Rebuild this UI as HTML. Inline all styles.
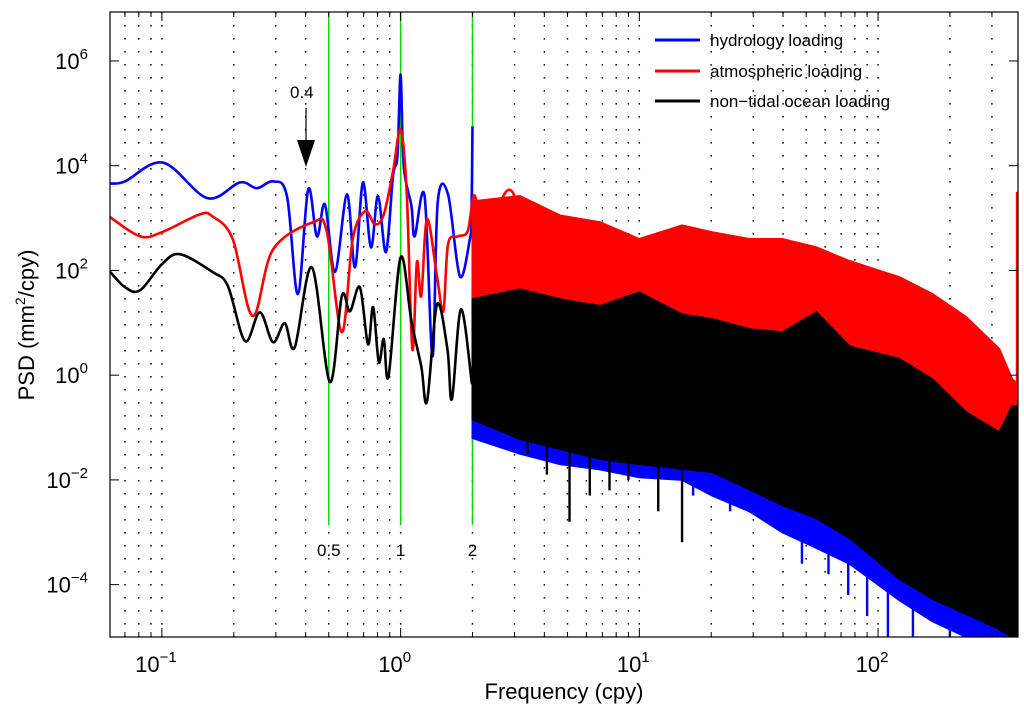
<!DOCTYPE html>
<html><head><meta charset="utf-8"><style>
body{margin:0;background:#fff;}
svg{display:block;font-family:"Liberation Sans",Arial,sans-serif;}
</style></head><body>
<svg id="chart" width="1024" height="717" viewBox="0 0 1024 717" xmlns="http://www.w3.org/2000/svg">
<g id="grid"></g>
<g id="series"></g>
<g id="axes"></g>
<g id="legend">
 <line x1="655" y1="40" x2="700" y2="40" stroke="#0000ff" stroke-width="3"/>
 <text x="710" y="46" font-size="17">hydrology loading</text>
 <line x1="655" y1="71" x2="700" y2="71" stroke="#ff0000" stroke-width="3"/>
 <text x="710" y="77" font-size="17">atmospheric loading</text>
 <line x1="655" y1="101" x2="700" y2="101" stroke="#000" stroke-width="3"/>
 <text x="710" y="107" font-size="17">non−tidal ocean loading</text>
</g>
<g>
 <text x="290" y="98" font-size="17">0.4</text>
 <line x1="306" y1="108" x2="306" y2="150" stroke="#000" stroke-width="1.2"/>
 <polygon points="297,140 315,140 306,167" fill="#000"/>
</g>
<text x="564" y="699" font-size="22" text-anchor="middle">Frequency (cpy)</text>
<text transform="translate(34,325) rotate(-90)" font-size="22" text-anchor="middle">PSD (mm<tspan font-size="14" dy="-9">2</tspan><tspan dy="9">/cpy)</tspan></text>
</svg>
<script>
// ---- data (frequencies in cpy, PSD as log10 of mm^2/cpy) ----
const hydroF   = [0.0605,0.070,0.101,0.155,0.212,0.25,0.292,0.334,0.371,0.41,0.446,0.482,0.531,0.596,0.644,0.695,0.751,0.804,0.868,0.929,0.97,1.0,1.03,1.11,1.145,1.26,1.36,1.43,1.58,1.77,1.95,1.98,2.0];
const hydroLog = [3.66,3.70,4.06,3.38,3.68,3.57,3.70,3.42,1.55,3.55,2.65,3.26,1.97,3.45,2.06,3.68,2.44,3.42,2.35,3.80,4.2,5.74,4.0,3.23,2.65,3.42,0.36,3.30,3.45,1.89,2.60,3.0,4.75];
const atmoF    = [0.0605,0.081,0.1,0.144,0.163,0.198,0.24,0.292,0.43,0.49,0.567,0.63,0.71,0.78,0.85,0.93,1.0,1.06,1.12,1.17,1.22,1.29,1.42,1.51,1.58,1.74,1.91,2.05,2.25,2.49,2.98,3.7];
const atmoLog  = [3.02,2.65,2.73,3.07,3.03,2.60,1.13,2.40,2.92,2.75,0.82,2.60,3.13,2.88,3.07,3.9,4.69,3.5,0.5,2.16,1.51,2.98,1.89,1.22,2.50,2.65,2.75,3.42,2.02,3.03,3.45,1.32];
const oceanF   = [0.0605,0.07,0.081,0.1,0.119,0.163,0.189,0.223,0.257,0.292,0.327,0.36,0.425,0.505,0.567,0.613,0.675,0.73,0.767,0.81,0.85,0.89,1.0,1.11,1.22,1.29,1.42,1.57,1.64,1.79,1.99];
const oceanLog = [1.98,1.68,1.62,2.12,2.31,1.97,1.70,0.65,1.20,0.63,0.99,0.53,2.06,-0.13,1.51,1.22,1.68,0.59,1.30,0.25,0.69,-0.02,2.25,1.03,0.17,-0.50,1.35,0.50,-0.46,1.26,-0.17];
// high-frequency envelopes
const bandF       = [2,3.16,4.65,6.84,10,15.1,20.2,28.9,39.7,55.2,75.9,123,169,234,322,365,385];
const atmoUpper   = [3.32,3.42,3.05,2.92,2.60,2.86,2.73,2.60,2.60,2.44,2.18,1.87,1.55,1.11,0.50,-0.08,-0.17];
const atmoLower   = [1.45,1.26,1.07,0.88,1.07,0.88,0.59,0.40,0.21,0.11,-0.17,-0.36,-0.65,-0.84,-1.22,-1.32,-1.32];
const oceanUpper  = [1.45,1.64,1.45,1.32,1.58,1.16,1.07,0.88,0.82,1.20,0.55,0.31,-0.08,-0.71,-1.09,-0.59,-0.59];
const oceanLower  = [-0.84,-1.22,-1.41,-1.60,-1.70,-1.79,-1.85,-2.18,-2.48,-2.73,-3.11,-3.89,-4.27,-4.56,-4.85,-5.0,-5.0];
const hydroUpper  = [2.79,2.60,2.04,1.45,1.26,1.07,0.78,0.50,0.31,0.6,0.1,-0.1,-0.4,-0.9,-1.2,-0.9,-0.9];
const hydroLower  = [-1.2,-1.5,-1.7,-1.8,-1.95,-2.0,-2.3,-2.6,-3.0,-3.3,-3.6,-4.3,-4.7,-5.0,-5.0,-5.0,-5.0];
const oceanSpikeF   = [2.7,3.4,5.1,9.0,15.1,6.2,12.0,4.1,7.5];
const oceanSpikeLog = [-1.0,-1.5,-2.8,-2.0,-3.19,-2.3,-2.6,-1.9,-2.2];
const hydroSpikeF   = [16.8,24.0,48.0,62.0,90.0,110.0,140.0,75.0,200.0];
const hydroSpikeLog = [-2.3,-2.6,-3.6,-3.8,-4.6,-5.0,-5.0,-4.2,-5.0];
const atmoEdgeLog = 3.5;
const xTickExp = [-1,0,1,2];
const yTickExp = [-4,-2,0,2,4,6];
const markerF = [0.5,1,2];
const markerLabels = ["0.5","1","2"];

// ---- axes ----
const L=110,R=1018,T=12,B=637;
const xMinLog=-1.2175, xMaxLog=2.5863, yMinLog=-5.0, yMaxLog=6.935;
const X=f=>L+(Math.log10(f)-xMinLog)/(xMaxLog-xMinLog)*(R-L);
const Y=l=>B-(l-yMinLog)/(yMaxLog-yMinLog)*(B-T);
const NS="http://www.w3.org/2000/svg";
function mk(parent,tag,attrs){const e=document.createElementNS(NS,tag);for(const k in attrs)e.setAttribute(k,attrs[k]);parent.appendChild(e);return e;}
const grid=document.getElementById('grid'),ser=document.getElementById('series'),axes=document.getElementById('axes');

const defs=mk(document.getElementById('chart'),'defs',{});
const cp=mk(defs,'clipPath',{id:'pc'});mk(cp,'rect',{x:L,y:T,width:R-L,height:B-T});
ser.setAttribute('clip-path','url(#pc)');

for(let d=-2;d<=2;d++){for(let m=1;m<=9;m++){const f=m*Math.pow(10,d);const lx=Math.log10(f);if(lx<xMinLog||lx>xMaxLog)continue;const x=X(f);
 const g=mk(grid,'line',{x1:x,y1:T,x2:x,y2:B,stroke:'#000','stroke-width':1.4,'stroke-dasharray':'1.6 11.4'});
 
 
 const len=m===1?9:5;
 const t1=mk(axes,'line',{x1:x,y1:B,x2:x,y2:B-len,stroke:'#000','stroke-width':1});
 
 
 const t2=mk(axes,'line',{x1:x,y1:T,x2:x,y2:T+len,stroke:'#000','stroke-width':1});
 
 
}}
xTickExp.forEach(e=>{const x=X(Math.pow(10,e));const t=mk(axes,'text',{x:x-6,y:672,'font-size':22,'text-anchor':'middle'});t.textContent='10';
 
 
 const s=mk(t,'tspan',{dy:-10,'font-size':15});s.textContent=String(e).replace('-','−');});
yTickExp.forEach(e=>{const y=Y(e);const t=mk(axes,'text',{x:88,y:y+8,'font-size':22,'text-anchor':'end'});t.textContent='10';
 
 
 const s=mk(t,'tspan',{dy:-10,'font-size':15});s.textContent=String(e).replace('-','−');
 [[L,L+9],[R,R-9]].forEach(p=>{const tk=mk(axes,'line',{x1:p[0],y1:y,x2:p[1],y2:y,stroke:'#000','stroke-width':1});
 
 });
});
const frame=mk(axes,'rect',{x:L,y:T,width:R-L,height:B-T,fill:'none',stroke:'#000','stroke-width':1.2});



markerF.forEach((f,i)=>{const x=X(f);const l=mk(grid,'line',{x1:x,y1:T,x2:x,y2:525,stroke:'#00dd00','stroke-width':1.5});
 
 
 const t=mk(axes,'text',{x:x,y:556,'font-size':17,'text-anchor':'middle'});t.textContent=markerLabels[i];
 
 });

function band(F,U,Lo,color,name){let pts=F.map((f,i)=>X(f)+','+Y(U[i]));for(let i=F.length-1;i>=0;i--)pts.push(X(F[i])+','+Y(Lo[i]));
 const p=mk(ser,'polygon',{points:pts.join(' '),fill:color,stroke:color,'stroke-width':2,'stroke-linejoin':'miter'});
 
 }
function line(F,V,color,name){const P=F.map((f,i)=>[X(f),Y(V[i])]);let d='M'+P[0][0]+' '+P[0][1];
 for(let i=0;i<P.length-1;i++){const p0=P[Math.max(0,i-1)],p1=P[i],p2=P[i+1],p3=P[Math.min(P.length-1,i+2)];
  const c1=[p1[0]+(p2[0]-p0[0])/6,p1[1]+(p2[1]-p0[1])/6],c2=[p2[0]-(p3[0]-p1[0])/6,p2[1]-(p3[1]-p1[1])/6];
  d+=' C'+c1[0]+' '+c1[1]+' '+c2[0]+' '+c2[1]+' '+p2[0]+' '+p2[1];}
 const p=mk(ser,'path',{d:d,fill:'none',stroke:color,'stroke-width':2.6,'stroke-linejoin':'round'});
 
 }
function spikes(F,V,topArr,color,name){F.forEach((f,i)=>{let k=0;while(k<bandF.length-2&&bandF[k+1]<f)k++;
 const x=X(f);const s=mk(ser,'line',{x1:x,y1:Y(topArr[k]),x2:x,y2:Y(V[i]),stroke:color,'stroke-width':2.4});
 
 });}

line(hydroF,hydroLog,'#0000ff','hydrology-line-low');
band(bandF,hydroUpper,hydroLower,'#0000ff','hydrology-band-high');
spikes(hydroSpikeF,hydroSpikeLog,hydroLower,'#0000ff','hydrology-spike');
line(atmoF,atmoLog,'#ff0000','atmospheric-line-low');
band(bandF,atmoUpper,atmoLower,'#ff0000','atmospheric-band-high');
const rs=mk(ser,'line',{x1:R-1,y1:Y(atmoUpper[atmoUpper.length-1]),x2:R-1,y2:Y(atmoEdgeLog),stroke:'#ff0000','stroke-width':2.4});


line(oceanF,oceanLog,'#000000','ocean-line-low');
band(bandF,oceanUpper,oceanLower,'#000000','ocean-band-high');
spikes(oceanSpikeF,oceanSpikeLog,oceanLower,'#000000','ocean-spike');
</script>
</body></html>
